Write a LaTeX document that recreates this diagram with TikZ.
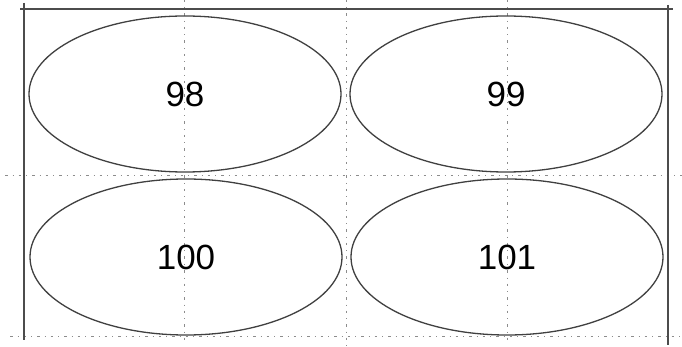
\documentclass[tikz,border=0pt]{standalone}
\usepackage{fontspec}
\setmainfont{Liberation Sans}
\usetikzlibrary{shapes.geometric}
\begin{document}
\begin{tikzpicture}[x=1pt,y=-1pt,
  frameline/.style={draw=black!70,line width=1.3pt},
  guide/.style={draw=black!45,line width=0.9pt,dash pattern=on 2.5pt off 5pt on 1pt off 5pt},
  cell/.style={ellipse,draw=black!75,line width=1.3pt,minimum width=312pt,minimum height=156pt,inner sep=0pt,
    font=\fontsize{35}{42}\selectfont}]
\useasboundingbox (0,0) rectangle (682,347);
% guide lines
\coordinate (g1a) at (184,0); \coordinate (g1b) at (184,340);
\coordinate (g2a) at (346.5,0); \coordinate (g2b) at (346.5,347);
\coordinate (g3a) at (507,0); \coordinate (g3b) at (507,340);
\coordinate (h1a) at (5,175.5); \coordinate (h1b) at (682,175.5);
\coordinate (h2a) at (10,336); \coordinate (h2b) at (682,336);
\draw[guide] (g1a) -- (g1b);
\draw[guide] (g2a) -- (g2b);
\draw[guide] (g3a) -- (g3b);
\draw[guide] (h1a) -- (h1b);
\draw[guide] (h2a) -- (h2b);
% frame
\coordinate (fl1) at (24,3); \coordinate (fl2) at (24,340);
\coordinate (ft1) at (20,9); \coordinate (ft2) at (673,9);
\coordinate (fr1) at (668,5); \coordinate (fr2) at (668,345);
\draw[frameline] (fl1) -- (fl2);
\draw[frameline] (ft1) -- (ft2);
\draw[frameline] (fr1) -- (fr2);
% cells
\node[cell] (c98) at (185,94) {98};
\node[cell] (c99) at (506,94) {99};
\node[cell] (c100) at (186,257) {100};
\node[cell] (c101) at (507,257) {101};
\end{tikzpicture}
\end{document}
